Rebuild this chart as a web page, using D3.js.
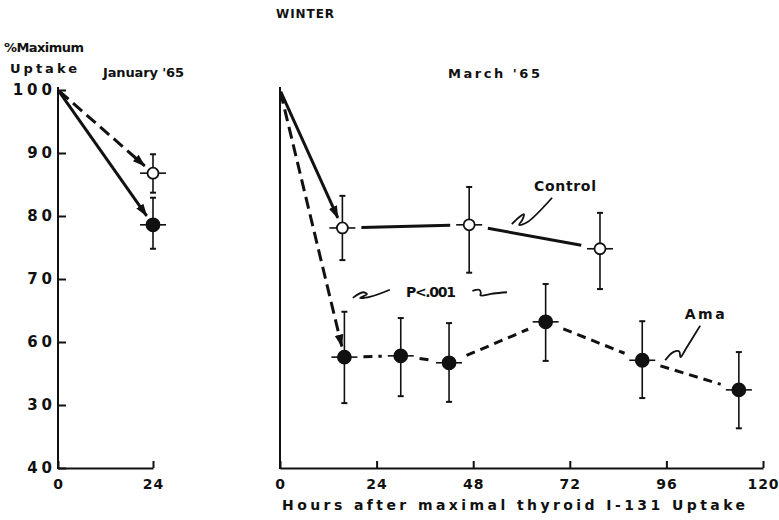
<!DOCTYPE html>
<html>
<head>
<meta charset="utf-8">
<script src="https://cdn.jsdelivr.net/npm/d3@7"></script>
<style>
  body { margin: 0; background: #fff; }
  text { font-family: "DejaVu Sans", sans-serif; font-weight: bold; fill: #111; }
</style>
</head>
<body>
<svg id="chart" width="779" height="520"></svg>
<script>
// y axis (shared by both panels)
var yTicks = [100, 90, 80, 70, 60, 50, 40];
var yTickLabels = ["100", "90", "80", "70", "60", "30", "40"];
var startValue = 100;

// January '65
var janXTicks = [0, 24];
var janHours = [24];
var janControlMean = [86.8];
var janControlLow = [83.7];
var janControlHigh = [89.8];
var janAmaMean = [78.6];
var janAmaLow = [74.8];
var janAmaHigh = [82.9];

// March '65
var marXTicks = [0, 24, 48, 72, 96, 120];
var marControlHours = [15.5, 47, 79.5];
var marControlMean = [78.1, 78.6, 74.8];
var marControlLow = [73.0, 71.0, 68.4];
var marControlHigh = [83.2, 84.6, 80.5];
var marAmaHours = [16, 30, 42, 66, 90, 114];
var marAmaMean = [57.6, 57.8, 56.7, 63.2, 57.1, 52.4];
var marAmaLow = [50.3, 51.4, 50.5, 57.0, 51.1, 46.3];
var marAmaHigh = [64.8, 63.8, 63.0, 69.2, 63.3, 58.4];

var svg = d3.select("#chart");

var y = d3.scaleLinear().domain([40, 100]).range([468, 90]);
var xJan = d3.scaleLinear().domain([0, 24]).range([58, 153]);
var xMar = d3.scaleLinear().domain([0, 120]).range([280, 763]);

svg.append("defs").append("marker")
  .attr("id", "head")
  .attr("viewBox", "0 0 12 10")
  .attr("refX", 11).attr("refY", 5)
  .attr("markerWidth", 4.4).attr("markerHeight", 3.6)
  .attr("markerUnits", "strokeWidth")
  .attr("orient", "auto")
  .append("path").attr("d", "M0,1 L12,5 L0,9 Z").attr("fill", "#111");

function zip(hours, mean, low, high) {
  return hours.map(function(h, i) {
    return {h: h, v: mean[i], lo: low[i], hi: high[i]};
  });
}

// shorten a segment by a and b pixels on either end
function shorten(x1, y1, x2, y2, a, b) {
  var dx = x2 - x1, dy = y2 - y1;
  var len = Math.sqrt(dx*dx + dy*dy);
  return [x1 + dx*a/len, y1 + dy*a/len, x2 - dx*b/len, y2 - dy*b/len];
}

function drawAxes(x, xTicks, showY) {
  var g = svg.append("g");
  var xAxis = d3.axisBottom(x).tickValues(xTicks).tickSize(-7).tickSizeOuter(0).tickPadding(11);
  var xg = g.append("g").attr("transform", "translate(0," + y(40) + ")").call(xAxis);
  xg.select(".domain").attr("stroke", "#111").attr("stroke-width", 2);
  xg.selectAll(".tick line").attr("stroke", "#111").attr("stroke-width", 2);
  xg.selectAll(".tick text").style("font-size", "14px").attr("fill", "#111").style("letter-spacing", "1px");

  var yAxis = d3.axisLeft(y).tickValues(showY ? yTicks : []).tickSize(-8).tickSizeOuter(0).tickPadding(6)
    .tickFormat(function(d, i) { return yTickLabels[i]; });
  var yg = g.append("g").attr("transform", "translate(" + x(0) + ",0)").call(yAxis);
  yg.select(".domain").attr("stroke", "#111").attr("stroke-width", 2).attr("d", "M0," + (y(40)+1) + "V" + (y(100)-3));
  yg.selectAll(".tick line").attr("stroke", "#111").attr("stroke-width", 2);
  yg.selectAll(".tick text").style("font-size", "15px").attr("fill", "#111").style("letter-spacing", "4px").attr("dx", "4px");
}

function drawArrow(x, pt, dashed) {
  var s = shorten(x(0), y(startValue), x(pt.h), y(pt.v), 2, 11);
  svg.append("line")
    .attr("x1", s[0]).attr("y1", s[1]).attr("x2", s[2]).attr("y2", s[3])
    .attr("stroke", "#111").attr("stroke-width", 3)
    .attr("stroke-dasharray", dashed ? "12,6" : null)
    .attr("marker-end", "url(#head)");
}

function drawConnect(x, pts, dashed) {
  for (var i = 0; i < pts.length - 1; i++) {
    var s = shorten(x(pts[i].h), y(pts[i].v), x(pts[i+1].h), y(pts[i+1].v), 19, 19);
    svg.append("line")
      .attr("x1", s[0]).attr("y1", s[1]).attr("x2", s[2]).attr("y2", s[3])
      .attr("stroke", "#111").attr("stroke-width", 3)
      .attr("stroke-dasharray", dashed ? "9,6" : null);
  }
}

function drawPoints(x, pts, filled) {
  var g = svg.append("g").selectAll("g").data(pts).enter().append("g")
    .attr("transform", function(d) { return "translate(" + x(d.h) + ",0)"; });
  g.append("line").attr("x1", 0).attr("x2", 0)
    .attr("y1", function(d) { return y(d.lo); }).attr("y2", function(d) { return y(d.hi); })
    .attr("stroke", "#111").attr("stroke-width", 1.6);
  g.append("line").attr("x1", -3).attr("x2", 3)
    .attr("y1", function(d) { return y(d.lo); }).attr("y2", function(d) { return y(d.lo); })
    .attr("stroke", "#111").attr("stroke-width", 2);
  g.append("line").attr("x1", -3).attr("x2", 3)
    .attr("y1", function(d) { return y(d.hi); }).attr("y2", function(d) { return y(d.hi); })
    .attr("stroke", "#111").attr("stroke-width", 2);
  g.append("line").attr("x1", -13).attr("x2", 13)
    .attr("y1", function(d) { return y(d.v); }).attr("y2", function(d) { return y(d.v); })
    .attr("stroke", "#111").attr("stroke-width", 1.6);
  g.append("circle")
    .attr("cx", 0).attr("cy", function(d) { return y(d.v); })
    .attr("r", filled ? 6.5 : 5.5)
    .attr("fill", filled ? "#111" : "#fff")
    .attr("stroke", "#111").attr("stroke-width", 1.8);
}

// squiggle points given in hours / % units
function squiggle(x, pts) {
  svg.append("path")
    .attr("d", d3.line().x(function(d) { return x(d[0]); }).y(function(d) { return y(d[1]); }).curve(d3.curveCatmullRom)(pts))
    .attr("fill", "none").attr("stroke", "#111").attr("stroke-width", 1.8);
}

function label(txt, px, py, size, len, anchor) {
  var t = svg.append("text").attr("x", px).attr("y", py).style("font-size", size + "px")
    .attr("text-anchor", anchor || "start").text(txt);
  if (len) t.attr("textLength", len).attr("lengthAdjust", "spacing");
  return t;
}

// Panels
drawAxes(xJan, janXTicks, true);
drawAxes(xMar, marXTicks, false);

var janControl = zip(janHours, janControlMean, janControlLow, janControlHigh);
var janAma = zip(janHours, janAmaMean, janAmaLow, janAmaHigh);
var marControl = zip(marControlHours, marControlMean, marControlLow, marControlHigh);
var marAma = zip(marAmaHours, marAmaMean, marAmaLow, marAmaHigh);

drawArrow(xJan, janControl[0], true);
drawArrow(xJan, janAma[0], false);
drawArrow(xMar, marControl[0], false);
drawArrow(xMar, marAma[0], true);

drawConnect(xMar, marControl, false);
drawConnect(xMar, marAma, true);

drawPoints(xJan, janControl, false);
drawPoints(xJan, janAma, true);
drawPoints(xMar, marControl, false);
drawPoints(xMar, marAma, true);

// annotations
squiggle(xMar, [[57.6, 78.7], [59.4, 79.8], [60.6, 80.3], [60.2, 79.4], [59.4, 78.6], [61.4, 79.0], [67.6, 82.9]]);
squiggle(xMar, [[18.1, 67.0], [20.6, 67.9], [21.6, 67.6], [19.9, 67.0], [22.5, 67.2], [27.3, 68.3]]);
squiggle(xMar, [[47.8, 68.1], [49.5, 68.3], [49.9, 67.8], [49.8, 67.4], [53, 67.7], [56.4, 67.9]]);
squiggle(xMar, [[95.7, 57.1], [97.7, 58.4], [99.2, 58.5], [99.5, 57.6], [101, 59.1], [104.4, 62.6]]);

label("Control", xMar(70.8), y(83.9), 14, 62, "middle");
label("P<.001", xMar(37.5), y(67.1), 14, 50, "middle");
label("Ama", xMar(105.5), y(63.6), 14, 40, "middle");

// titles
label("WINTER", 276, 18, 12, 58);
label("%Maximum", 4, 52, 13, 80);
label("Uptake", 10, 73, 13, 67);
label("January '65", 103, 77, 13, 81);
label("March '65", 448, 78, 13, 92);
label("Hours after  maximal  thyroid  I-131  Uptake", 282, 510, 14, 463);
</script>
</body>
</html>
